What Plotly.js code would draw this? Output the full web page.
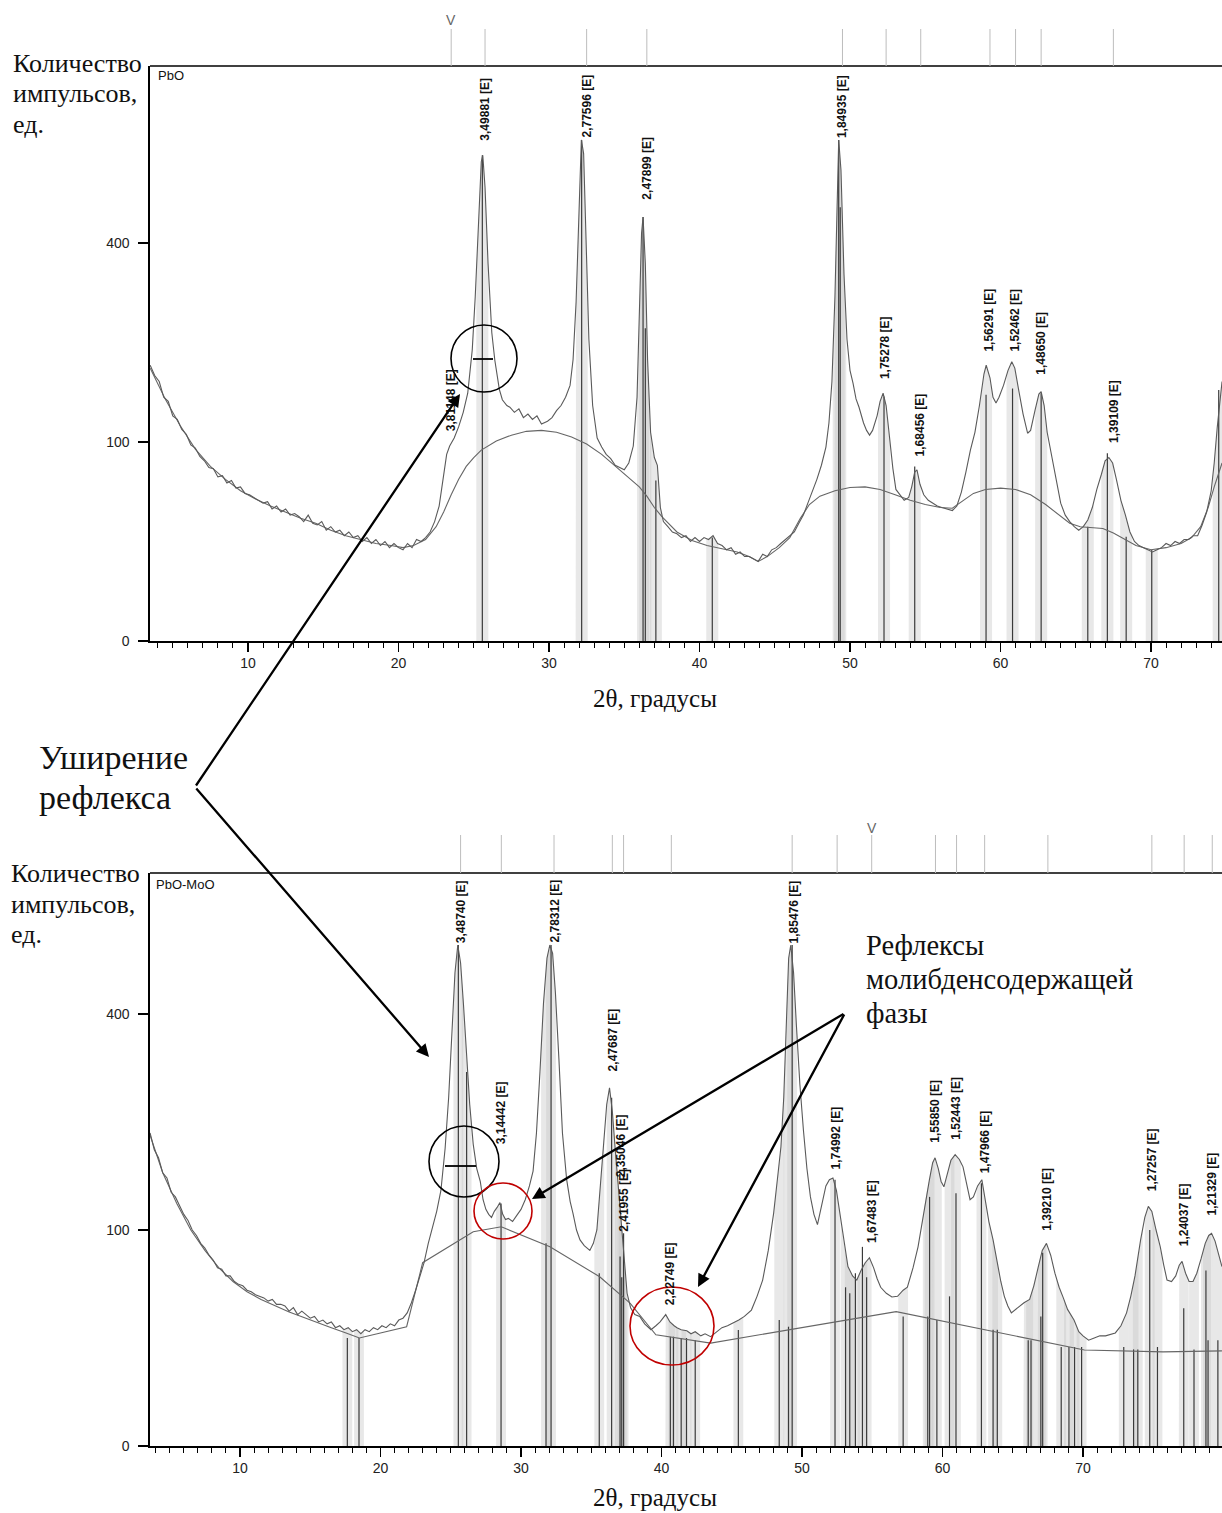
<!DOCTYPE html>
<html><head><meta charset="utf-8">
<script src="https://cdn.plot.ly/plotly-3.0.1.min.js"></script>
<style>body{margin:0;background:#fff}#chart{width:1222px;height:1513px}</style>
</head><body><div id="chart"></div>
<script>
// ---------- DATA (2θ in degrees, intensity in counts) ----------
const topProfile = [[3.5,192],[3.8,178],[4.1,170],[4.4,150],[4.7,145],[5.0,128],[5.3,124],[5.6,113],[5.9,108],[6.2,97],[6.5,94],[6.8,86],[7.1,82],[7.4,76],[7.7,75],[8.0,68],[8.3,69],[8.6,63],[8.9,65],[9.2,59],[9.5,60],[9.8,55],[10.1,54],[10.4,52],[10.7,50],[11.0,48],[11.3,49],[11.6,44],[11.9,46],[12.2,42],[12.5,44],[12.8,40],[13.1,41],[13.4,39],[13.7,36],[14.0,40],[14.3,35],[14.6,34],[14.9,36],[15.2,31],[15.5,33],[15.8,30],[16.1,31],[16.4,28],[16.7,30],[17.0,27],[17.3,28],[17.6,25],[17.9,27],[18.2,24],[18.5,26],[18.8,23],[19.1,25],[19.4,22],[19.7,24],[20.0,22],[20.3,21],[20.6,24],[20.9,22],[21.2,26],[21.5,25],[21.8,27],[22.1,30],[22.4,36],[22.7,46],[23.0,72],[23.2,88],[23.4,96],[23.7,104],[24.0,116],[24.3,132],[24.6,155],[24.9,214],[25.1,300],[25.3,430],[25.5,580],[25.6,596],[25.75,520],[25.95,360],[26.2,240],[26.4,199],[26.7,160],[26.9,147],[27.2,140],[27.4,138],[27.7,132],[28.0,136],[28.3,126],[28.6,130],[28.9,124],[29.2,128],[29.5,119],[29.9,122],[30.2,126],[30.5,134],[30.8,140],[31.1,150],[31.4,165],[31.6,200],[31.8,290],[32.0,470],[32.15,634],[32.3,600],[32.45,420],[32.65,230],[32.9,140],[33.2,104],[33.5,95],[33.8,88],[34.1,84],[34.4,78],[34.7,76],[35.0,74],[35.3,80],[35.6,96],[35.85,150],[36.0,260],[36.15,420],[36.25,454],[36.4,360],[36.55,200],[36.75,110],[37.0,85],[37.2,78],[37.4,45],[37.6,36],[37.9,33],[38.2,30],[38.5,29],[38.8,27],[39.1,28],[39.4,25],[39.7,27],[40.0,25],[40.3,27],[40.6,26],[40.9,28],[41.2,24],[41.5,23],[41.8,21],[42.1,22],[42.4,19],[42.7,20],[43.0,18],[43.3,18],[43.6,17],[43.9,16],[44.2,19],[44.5,18],[44.8,21],[45.1,22],[45.4,24],[45.7,26],[46.0,28],[46.3,30],[46.6,35],[46.9,40],[47.2,48],[47.5,56],[47.8,66],[48.1,78],[48.4,95],[48.6,120],[48.8,170],[49.0,300],[49.15,520],[49.25,634],[49.4,560],[49.6,340],[49.8,230],[50.0,185],[50.2,168],[50.4,148],[50.6,138],[50.9,120],[51.1,112],[51.3,107],[51.5,112],[51.8,128],[52.0,145],[52.2,155],[52.4,140],[52.6,105],[52.85,75],[53.05,58],[53.3,54],[53.6,50],[53.9,52],[54.1,60],[54.3,72],[54.45,74],[54.65,62],[54.9,54],[55.2,50],[55.5,48],[55.8,46],[56.1,45],[56.4,44],[56.8,43],[57.1,46],[57.4,56],[57.7,72],[58.0,92],[58.3,110],[58.6,140],[58.9,180],[59.05,192],[59.3,175],[59.5,150],[59.7,143],[59.9,150],[60.2,165],[60.5,185],[60.75,197],[60.95,188],[61.2,160],[61.5,130],[61.8,109],[62.0,112],[62.3,135],[62.55,154],[62.7,157],[62.9,140],[63.1,110],[63.4,86],[63.7,65],[64.0,48],[64.3,40],[64.6,36],[64.9,33],[65.2,31],[65.5,33],[65.8,37],[66.1,45],[66.4,58],[66.7,70],[66.95,82],[67.2,85],[67.45,80],[67.7,66],[68.0,50],[68.3,40],[68.6,30],[68.9,25],[69.2,23],[69.5,22],[69.8,21],[70.1,20],[70.4,21],[70.7,22],[71.0,24],[71.3,23],[71.6,25],[71.9,24],[72.2,26],[72.5,26],[72.8,28],[73.1,28],[73.4,34],[73.7,42],[74.0,57],[74.2,80],[74.4,115],[74.6,150],[74.72,170]];

const topBackground = [[3.5,188],[4.5,148],[5.5,117],[6.5,93],[7.5,77],[8.5,66],[9.5,57],[10.5,51],[11.5,46],[12.5,42],[13.5,38],[14.5,35],[15.5,31],[16.5,28],[17.5,26],[18.5,24],[19.5,23],[20.3,22],[21.0,23],[21.8,26],[22.5,33],[23.0,42],[23.5,54],[24.0,66],[24.5,77],[25.0,85],[25.5,92],[26.5,101],[27.5,107],[28.5,111],[29.5,112],[30.5,110],[31.5,105],[32.5,98],[33.5,88],[34.5,76],[35.5,65],[36.0,60],[36.5,53],[37.0,45],[37.5,39],[38.5,30],[39.5,25.5],[40.5,23],[41.5,21.5],[42.5,20],[43.3,18],[43.9,16],[44.5,18],[45.3,22],[46.0,27],[46.7,38],[47.3,47],[48.0,53],[49.0,57],[50.0,59.5],[51.0,60],[52.0,58],[53.0,54],[54.0,50],[55.0,47],[56.0,45],[56.8,44.5],[57.4,49],[58.2,55],[59.0,58],[60.0,59],[61.0,58],[62.0,54],[63.0,47],[64.0,39],[64.6,35],[65.3,33],[66.0,32.5],[66.8,32],[67.5,29.5],[68.3,26],[69.0,23],[70.0,21],[71.0,22],[72.0,24],[72.7,27],[73.3,33],[73.8,45],[74.2,60],[74.72,80]];

const topSticks = [[25.57,596],[32.17,634],[36.25,454],[36.4,247],[37.1,65],[40.85,27],[49.25,634],[49.35,475],[52.26,151],[54.3,77],[59.04,153],[60.8,161],[62.7,155],[65.8,33],[67.1,89],[68.35,27.5],[70.05,21],[74.5,159]];

const topLabels = [["3,81148 [E]",23.49,109],["3,49881 [E]",25.75,626],["2,77596 [E]",32.53,634],["2,47899 [E]",36.53,487],["1,84935 [E]",49.51,634],["1,75278 [E]",52.33,170],["1,68456 [E]",54.67,84],["1,56291 [E]",59.24,208],["1,52462 [E]",60.97,208],["1,48650 [E]",62.70,176],["1,39109 [E]",67.50,97]];

const topRefLines = [23.5,25.75,32.5,36.5,49.5,52.4,54.7,59.3,61.0,62.7,67.5];
const topRefMarker = 23.5;

const bottomProfile = [[3.6,210],[3.9,188],[4.2,178],[4.5,160],[4.8,154],[5.1,138],[5.4,133],[5.7,124],[6.0,115],[6.3,109],[6.6,100],[6.9,95],[7.2,88],[7.5,84],[7.8,78],[8.1,74],[8.4,68],[8.7,67],[9.0,62],[9.3,62],[9.6,58],[9.9,56],[10.2,55],[10.5,52],[10.8,51],[11.1,49],[11.4,48],[11.7,47],[12.0,45],[12.3,46],[12.6,43],[12.9,43],[13.2,42],[13.5,39],[13.8,41],[14.1,37],[14.4,39],[14.7,37],[15.0,35],[15.3,36],[15.6,33],[15.9,34],[16.2,32],[16.5,33],[16.8,30],[17.1,31],[17.4,29],[17.7,30],[18.0,28],[18.3,29],[18.6,27],[18.9,29],[19.2,28],[19.5,30],[19.8,29],[20.1,31],[20.4,30],[20.7,32],[21.0,31],[21.3,34],[21.6,35],[21.9,38],[22.2,44],[22.5,52],[22.8,62],[23.1,72],[23.4,88],[23.7,102],[24.0,118],[24.3,140],[24.6,190],[24.85,260],[25.1,370],[25.3,480],[25.5,538],[25.7,500],[25.9,420],[26.1,330],[26.35,250],[26.6,195],[26.85,165],[27.1,150],[27.3,130],[27.5,120],[27.7,115],[27.9,112],[28.1,118],[28.3,122],[28.5,127],[28.7,115],[28.9,110],[29.1,111],[29.4,108],[29.7,114],[30.0,120],[30.3,130],[30.6,145],[30.86,162],[31.1,210],[31.35,300],[31.6,420],[31.85,510],[32.05,538],[32.25,520],[32.45,440],[32.7,320],[32.95,210],[33.25,152],[33.5,128],[33.7,116],[33.95,100],[34.2,91],[34.5,86],[34.9,82],[35.15,88],[35.4,100],[35.6,135],[35.85,192],[36.1,250],[36.3,275],[36.5,240],[36.7,190],[36.9,152],[37.1,110],[37.3,82],[37.55,50],[37.8,41],[38.1,37],[38.45,36],[38.8,32],[39.25,29],[39.6,31],[39.9,33],[40.3,37],[40.6,33],[40.9,31],[41.1,30],[41.4,29],[41.8,28.5],[42.1,27],[42.4,28],[42.8,26],[43.1,27],[43.5,25.6],[43.9,28],[44.3,30],[44.7,31],[45.1,32.4],[45.5,34],[45.9,36],[46.4,39.6],[46.8,48],[47.2,59],[47.6,82],[47.98,116],[48.3,160],[48.5,192],[48.7,260],[48.9,400],[49.05,510],[49.2,538],[49.4,480],[49.6,380],[49.85,280],[50.1,214],[50.35,165],[50.6,133],[50.85,115],[51.1,105],[51.4,125],[51.7,145],[51.95,152],[52.2,154],[52.45,140],[52.7,116],[52.95,90],[53.27,69],[53.6,62],[53.9,59],[54.2,66],[54.5,72],[54.8,76],[55.1,68],[55.35,60],[55.6,54],[56.0,50],[56.4,47.6],[56.8,48],[57.2,52],[57.5,54],[57.9,68],[58.26,85],[58.6,112],[58.85,135],[59.07,152],[59.3,172],[59.47,178],[59.7,165],[59.9,150],[60.1,144],[60.35,158],[60.6,175],[60.9,182],[61.2,176],[61.46,167],[61.7,148],[61.96,130],[62.2,133],[62.5,145],[62.8,152],[63.05,128],[63.3,108],[63.6,91],[63.9,72],[64.15,58],[64.4,48],[64.65,42],[64.9,38],[65.2,40],[65.5,42],[65.8,44],[66.2,46],[66.5,55],[66.8,68],[67.1,82],[67.4,88],[67.7,78],[68.0,64],[68.3,54],[68.6,47],[68.9,40],[69.36,34],[69.7,28],[70.0,26],[70.4,24],[70.8,25],[71.2,26],[71.6,26],[72.0,27],[72.3,27.4],[72.7,31],[73.1,38],[73.4,48],[73.7,62],[74.1,91],[74.4,112],[74.65,123],[74.9,118],[75.2,100],[75.5,85],[75.75,70],[75.98,59],[76.3,58],[76.6,62],[76.85,70],[77.05,73],[77.3,64],[77.55,58],[77.83,58],[78.1,64],[78.4,75],[78.7,88],[78.95,95],[79.15,97],[79.4,90],[79.65,80],[79.89,69]];

const bottomBackground = [[3.6,207],[4.5,160],[5.5,126],[6.5,100],[7.5,82],[8.5,68],[9.5,58],[10.5,51],[11.5,46],[12.5,42],[13.5,38.5],[14.5,35.5],[15.5,32.5],[16.5,30],[17.5,27.5],[18.5,25],[21.86,30.5],[23.0,72],[26.6,98.4],[28.6,103],[32.06,85],[35.6,61.4],[37.76,43.8],[39.6,26.5],[43.5,22.7],[56.7,38.7],[70.1,19.75],[75.7,19],[79.89,19.4]];

const bottomSticks = [[17.64,25],[18.47,25],[25.54,538],[26.13,300],[28.58,126],[31.78,88],[32.14,538],[35.57,64],[36.45,260],[37.05,77],[37.17,61],[37.3,97],[40.63,25.6],[40.85,25.6],[41.4,25],[41.78,25],[42.4,24],[45.47,28.8],[48.38,34],[49.04,30.5],[49.3,538],[52.35,152],[53.1,54],[53.4,50],[53.8,64],[54.3,85],[54.6,61],[57.2,36],[58.95,36],[59.08,133],[59.6,34],[60.5,48],[60.96,137],[62.77,148],[63.6,29],[63.9,29],[66.1,24],[66.3,24],[67.0,36],[67.13,80],[68.45,21],[69.0,21],[69.4,21],[69.9,21],[72.9,21],[73.6,20],[73.9,20],[74.75,100],[75.3,21],[77.17,40.6],[77.9,20],[78.75,66],[78.9,24],[79.6,24]];

const bottomLabels = [["3,48740 [E]",25.78,538],["3,14442 [E]",28.58,192],["2,78312 [E]",32.42,538],["2,47687 [E]",36.53,298],["2,35046 [E]",37.12,152],["2,41955 [E]",37.33,97],["2,22749 [E]",40.58,41.4],["1,85476 [E]",49.43,538],["1,74992 [E]",52.42,161],["1,67483 [E]",54.98,87],["1,55850 [E]",59.47,194],["1,52443 [E]",60.96,199],["1,47966 [E]",62.99,157],["1,39210 [E]",67.44,97],["1,27257 [E]",74.88,137],["1,24037 [E]",77.17,84],["1,21329 [E]",79.15,112]];

const bottomRefLines = [25.7,28.6,32.35,36.5,37.3,40.7,49.3,52.5,54.96,59.5,61.0,63.0,67.5,74.9,77.2,79.2];
const bottomRefMarker = 54.96;

const yTickCounts = [0,100,400];
const panelNames = ["PbO","PbO-MoO"];
const axisTitleX = "2θ, градусы";
const axisTitleY = ["Количество","импульсов,","ед."];
const noteBroad = ["Уширение","рефлекса"];
const noteMo = ["Рефлексы","молибденсодержащей","фазы"];

// ---------- helpers ----------
const W = 1222, H = 1513;
const PX = p => p / W;
const PY = p => 1 - p / H;
const sq = c => Math.sqrt(c);
const SANS = "Liberation Sans, Arial, sans-serif";
const SERIF = "Liberation Serif, Times New Roman, serif";

function sqAt(profile, t) {
  for (let i = 0; i < profile.length - 1; i++) {
    const a = profile[i], b = profile[i + 1];
    if (t >= a[0] && t <= b[0]) {
      const f = (t - a[0]) / (b[0] - a[0]);
      return sq(a[1]) * (1 - f) + sq(b[1]) * f;
    }
  }
  return t < profile[0][0] ? sq(profile[0][1]) : sq(profile[profile.length - 1][1]);
}
function lineTrace(data, xa, ya, color, width) {
  return {type: 'scatter', mode: 'lines', x: data.map(d => d[0]), y: data.map(d => sq(d[1])),
    xaxis: xa, yaxis: ya, line: {color: color, width: width}, hoverinfo: 'skip'};
}
function stickTrace(sticks, xa, ya) {
  const x = [], y = [];
  sticks.forEach(s => { x.push(s[0], s[0], null); y.push(0, sq(s[1]), null); });
  return {type: 'scatter', mode: 'lines', x, y, xaxis: xa, yaxis: ya, line: {color: '#3a3a3a', width: 1.2}, hoverinfo: 'skip'};
}
function bandTraces(profile, sticks, w, xa, ya) {
  const xmin = profile[0][0], xmax = profile[profile.length - 1][0];
  return sticks.map(s => {
    const lo = Math.max(s[0] - w, xmin), hi = Math.min(s[0] + w, xmax);
    const x = [lo, lo], y = [0, sqAt(profile, lo)];
    profile.forEach(p => { if (p[0] > lo && p[0] < hi) { x.push(p[0]); y.push(sq(p[1])); } });
    x.push(hi, hi); y.push(sqAt(profile, hi), 0);
    return {type: 'scatter', mode: 'lines', x, y, xaxis: xa, yaxis: ya, fill: 'toself',
      fillcolor: 'rgba(195,195,195,0.38)', line: {width: 0, color: 'rgba(0,0,0,0)'}, hoverinfo: 'skip'};
  });
}
function labelAnns(labels, xa, ya) {
  return labels.map(l => ({xref: xa, yref: ya, x: l[1], y: sq(l[2]), text: '<b>' + l[0] + '</b>',
    textangle: -90, showarrow: false, xanchor: 'center', yanchor: 'bottom',
    font: {family: SANS, size: 12, color: '#111'}}));
}
function textAnn(txt, px, py, size, family, anchor) {
  return {xref: 'paper', yref: 'paper', x: PX(px), y: PY(py), text: txt, showarrow: false,
    xanchor: anchor || 'left', yanchor: 'middle', font: {family: family, size: size, color: '#111'}};
}
function arrowAnn(hx, hy, tx, ty) {
  return {xref: 'paper', yref: 'paper', x: PX(hx), y: PY(hy), ax: tx - hx, ay: ty - hy, axref: 'pixel', ayref: 'pixel',
    text: '', showarrow: true, arrowhead: 2, arrowsize: 1.1, arrowwidth: 2.3, arrowcolor: '#000', standoff: 0};
}

// ---------- traces ----------
const traces = [].concat(
  bandTraces(topProfile, topSticks, 0.4, 'x', 'y'),
  bandTraces(bottomProfile, bottomSticks, 0.35, 'x2', 'y2'),
  [stickTrace(topSticks, 'x', 'y'), stickTrace(bottomSticks, 'x2', 'y2'),
   lineTrace(topBackground, 'x', 'y', '#666', 1.1), lineTrace(bottomBackground, 'x2', 'y2', '#666', 1.1),
   lineTrace(topProfile, 'x', 'y', '#5a5a5a', 1.1), lineTrace(bottomProfile, 'x2', 'y2', '#5a5a5a', 1.1)]
);

// ---------- axes ----------
function xAxis(domainLo, rng, anchor) {
  return {domain: [domainLo, 1], range: rng, anchor: anchor, showline: true, linecolor: '#000', linewidth: 1.6,
    ticks: 'outside', ticklen: 9, tickwidth: 1.2, tickcolor: '#000', tickmode: 'linear', tick0: 0, dtick: 10,
    minor: {ticks: 'outside', dtick: 1, tick0: 0, ticklen: 5, tickwidth: 1, tickcolor: '#000'},
    showgrid: false, zeroline: false, fixedrange: true,
    tickfont: {family: SANS, size: 14, color: '#222'}};
}
function yAxis(dom, top, anchor) {
  return {domain: dom, range: [0, top], anchor: anchor, showline: true, linecolor: '#000', linewidth: 1.6,
    ticks: 'outside', ticklen: 10, tickwidth: 1.2, tickcolor: '#000', tickmode: 'array',
    tickvals: yTickCounts.map(sq), ticktext: yTickCounts.map(String), ticklabelstandoff: 6,
    showgrid: false, zeroline: false, fixedrange: true,
    tickfont: {family: SANS, size: 14, color: '#222'}};
}

// ---------- shapes ----------
const shapes = [];
shapes.push({type: 'line', xref: 'paper', yref: 'paper', x0: PX(150), x1: 1, y0: PY(66), y1: PY(66), line: {color: '#000', width: 1.6}});
shapes.push({type: 'line', xref: 'paper', yref: 'paper', x0: PX(150), x1: 1, y0: PY(873), y1: PY(873), line: {color: '#000', width: 1.6}});
topRefLines.forEach(t => shapes.push({type: 'line', xref: 'x', yref: 'paper', x0: t, x1: t, y0: PY(66), y1: PY(29), line: {color: '#bdbdbd', width: 1}}));
bottomRefLines.forEach(t => shapes.push({type: 'line', xref: 'x2', yref: 'paper', x0: t, x1: t, y0: PY(873), y1: PY(835), line: {color: '#bdbdbd', width: 1}}));
function circ(x0, y0, x1, y1, color) {
  return {type: 'circle', xref: 'paper', yref: 'paper', x0: PX(x0), x1: PX(x1), y0: PY(y1), y1: PY(y0), line: {color: color, width: 1.6}};
}
function seg(x0, x1, y) {
  return {type: 'line', xref: 'paper', yref: 'paper', x0: PX(x0), x1: PX(x1), y0: PY(y), y1: PY(y), line: {color: '#000', width: 1.8}};
}
shapes.push(circ(451, 325, 517, 392, '#000'), seg(473, 493, 359));
shapes.push(circ(429, 1126, 499, 1197, '#000'), seg(445, 476, 1166));
shapes.push(circ(474, 1183, 532, 1239, '#c00000'), circ(630, 1287, 714, 1365, '#c00000'));

// ---------- annotations ----------
const anns = [].concat(labelAnns(topLabels, 'x', 'y'), labelAnns(bottomLabels, 'x2', 'y2'));
anns.push({xref: 'x', yref: 'paper', x: topRefMarker, y: PY(20), text: 'V', showarrow: false, xanchor: 'center', yanchor: 'middle', font: {family: SANS, size: 14, color: '#666'}});
anns.push({xref: 'x2', yref: 'paper', x: bottomRefMarker, y: PY(828), text: 'V', showarrow: false, xanchor: 'center', yanchor: 'middle', font: {family: SANS, size: 14, color: '#666'}});
anns.push(textAnn(panelNames[0], 156, 76, 13, SANS), textAnn(panelNames[1], 154, 885, 13, SANS));
anns.push(textAnn(axisTitleX, 655, 698, 25, SERIF, 'center'), textAnn(axisTitleX, 655, 1497, 25, SERIF, 'center'));
[63, 94, 124].forEach((y, i) => anns.push(textAnn(axisTitleY[i], 11, y, 26, SERIF)));
[873, 904, 934].forEach((y, i) => anns.push(textAnn(axisTitleY[i], 9, y, 26, SERIF)));
[757, 797].forEach((y, i) => anns.push(textAnn(noteBroad[i], 37, y, 34, SERIF)));
[945, 979, 1013].forEach((y, i) => anns.push(textAnn(noteMo[i], 864, y, 28.5, SERIF)));
anns.push(arrowAnn(460, 394, 195, 787), arrowAnn(429, 1057, 195, 787));
anns.push(arrowAnn(532, 1199, 845, 1013), arrowAnn(698, 1287, 845, 1013));

const layout = {
  width: W, height: H, margin: {l: 0, r: 0, t: 0, b: 0, pad: 0},
  paper_bgcolor: '#fff', plot_bgcolor: '#fff', showlegend: false, hovermode: false,
  xaxis: xAxis(PX(150), [10 - 98 / 15.05, 10 + 974 / 15.05], 'y'),
  yaxis: yAxis([PY(641), PY(66)], 575 / 19.9, 'x'),
  xaxis2: xAxis(PX(150), [10 - 90 / 14.05, 10 + 982 / 14.05], 'y2'),
  yaxis2: yAxis([PY(1446), PY(873)], 573 / 21.6, 'x2'),
  shapes: shapes, annotations: anns
};
Plotly.newPlot('chart', traces, layout, {staticPlot: true, displayModeBar: false});
</script></body></html>
